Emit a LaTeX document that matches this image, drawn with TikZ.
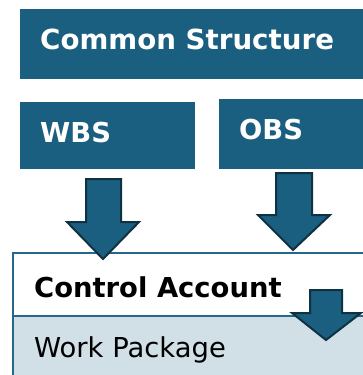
\documentclass[tikz,border=0pt]{standalone}
\usepackage{fontspec}
\setmainfont{DejaVu Sans}
\definecolor{boxblue}{RGB}{26,94,128}
\definecolor{arrowedge}{RGB}{14,50,68}
\definecolor{wpfill}{RGB}{209,223,231}
\definecolor{caedge}{RGB}{38,104,138}
\begin{document}
\begin{tikzpicture}[x=1pt,y=-1pt,
  bluebox/.style={fill=boxblue,draw=none},
  headtext/.style={anchor=base west,inner sep=0pt,text=white,font=\fontsize{27.4}{30}\selectfont\bfseries},
  bodytext/.style={anchor=base west,inner sep=0pt,text=black,font=\fontsize{27.4}{30}\selectfont},
  blockarrow/.style={fill=boxblue,draw=arrowedge,line width=2pt,line join=miter}]
\useasboundingbox (0,0) rectangle (363,375);
\clip (0,0) rectangle (363,375);
\fill[white] (0,0) rectangle (363,375);

% top band and the two breakdown structures
\path[bluebox] (20,9) rectangle (380,79);
\node[headtext,font=\fontsize{27.7}{30}\selectfont\bfseries] (cs) at (40,49) {Common Structure};
\path[bluebox] (20,102) rectangle (195,169);
\node[headtext] (wbs) at (40,142) {WBS};
\path[bluebox] (219,99) rectangle (380,169);
\node[headtext] (obs) at (239,139) {OBS};

% control account over work package
\draw[caedge,line width=2pt,fill=white] (13,253) rectangle (380,316);
\draw[caedge,line width=2pt,fill=wpfill] (13,316) rectangle (380,390);
\node[bodytext,font=\fontsize{27.4}{30}\selectfont\bfseries] (ca) at (34,297) {Control Account};
\node[bodytext] (wp) at (34,357) {Work Package};

% block arrows
\draw[blockarrow] (86,179) -- (121,179) -- (121,222) -- (139,222) -- (103,259)
  -- (67,222) -- (86,222) -- cycle;
\draw[blockarrow] (276,173) -- (312,173) -- (312,215) -- (330,215) -- (293,250)
  -- (258,215) -- (276,215) -- cycle;
\draw[blockarrow] (310,290) -- (342,290) -- (342,313) -- (361,313) -- (326,340)
  -- (292,313) -- (310,313) -- cycle;
\end{tikzpicture}
\end{document}
